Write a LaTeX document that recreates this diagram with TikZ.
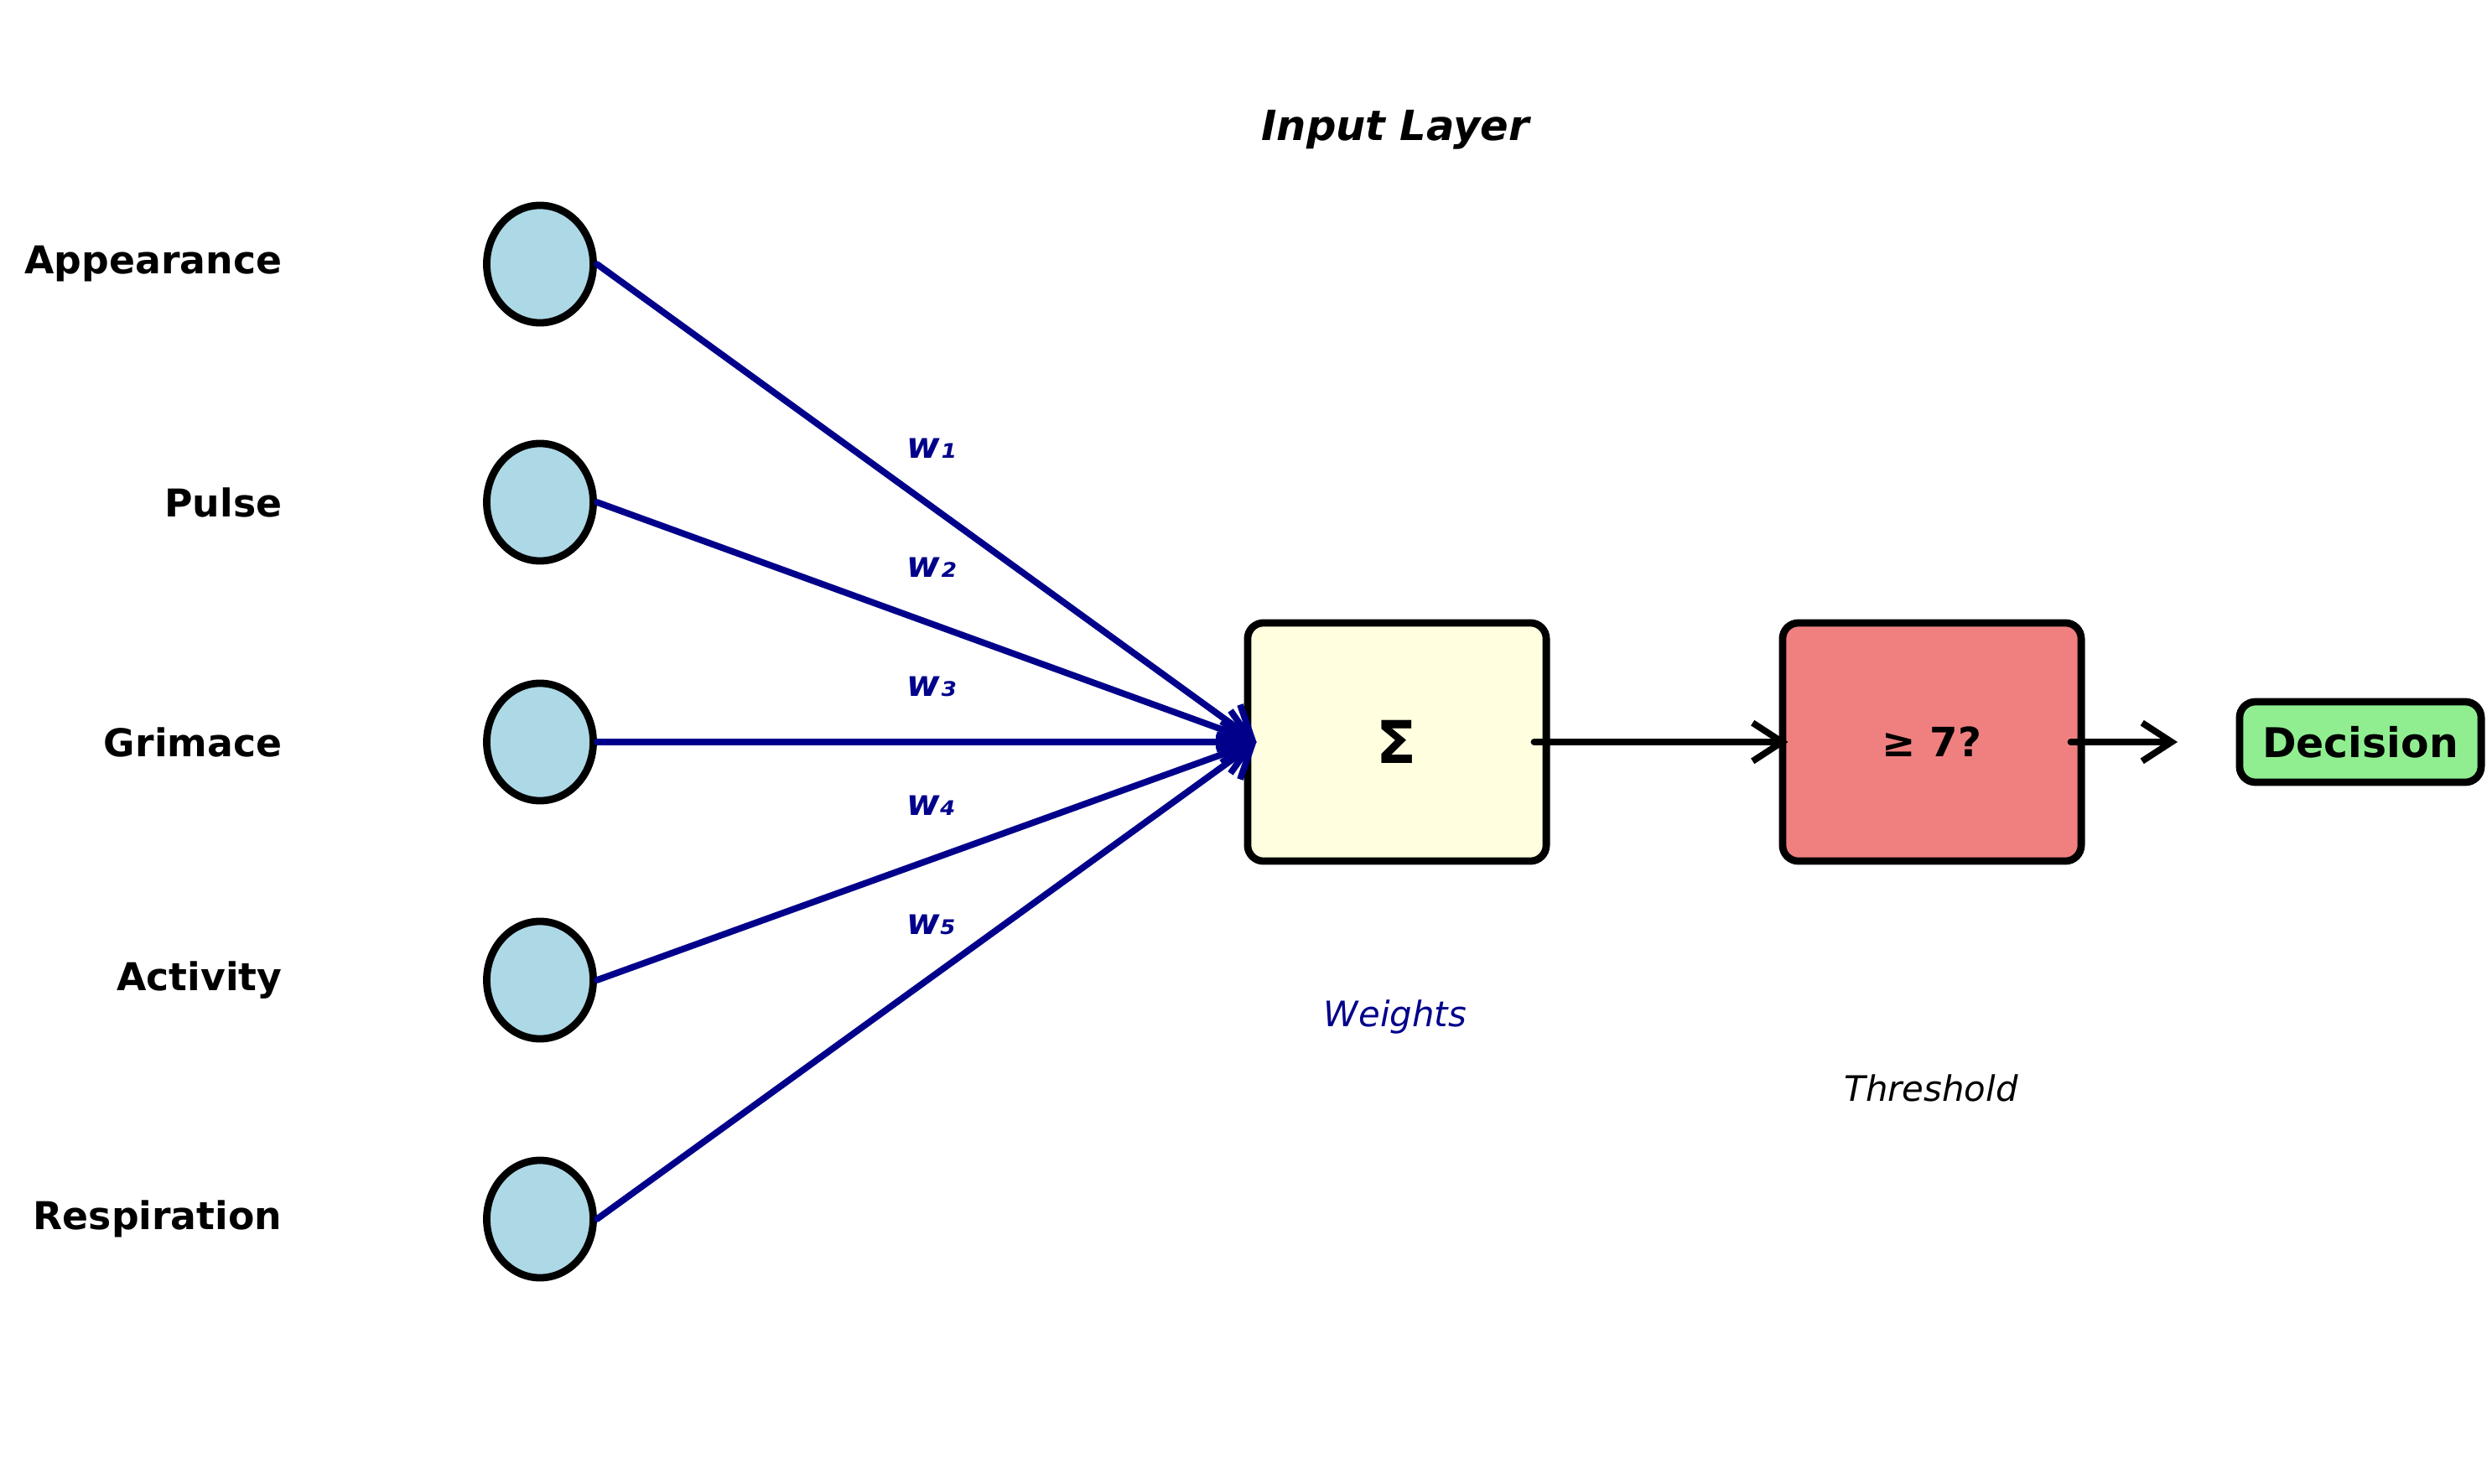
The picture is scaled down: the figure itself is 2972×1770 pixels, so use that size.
\documentclass[tikz,border=0pt]{standalone}
\usepackage{fontspec}
\setmainfont{DejaVu Sans}
\usetikzlibrary{arrows.meta,shapes.geometric}
\definecolor{dblue}{HTML}{00008B}
\definecolor{lblue}{HTML}{ADD8E6}
\definecolor{lyellow}{HTML}{FFFFE0}
\definecolor{lcoral}{HTML}{F08080}
\definecolor{lgreen}{HTML}{90EE90}
\tikzset{
  inp/.style={ellipse, draw=black, line width=2.5pt, fill=lblue, minimum width=1.27cm, minimum height=1.40cm, inner sep=0pt},
  lab/.style={anchor=east, font=\fontsize{13}{15}\selectfont\bfseries, inner sep=0pt},
  wlab/.style={text=dblue, font=\fontsize{12.2}{14}\selectfont\bfseries\itshape, inner sep=0pt},
  boxn/.style={draw=black, line width=2.5pt, rounded corners=5.4pt, minimum width=3.56cm, minimum height=2.84cm, inner sep=0pt},
  warrow/.style={draw=dblue, line width=2.2pt, line cap=round, -{Straight Barb[length=10pt,width=14pt,line width=2.2pt]}},
  karrow/.style={draw=black, line width=2.2pt, line cap=round, -{Straight Barb[length=10pt,width=13pt,line width=2.2pt]}},
}
\begin{document}
\begin{tikzpicture}[x=0.01cm, y=-0.01cm]
\useasboundingbox (0,0) rectangle (2972,1770);
% title
\node[font=\fontsize{14.1}{16}\selectfont\bfseries\itshape] (title) at (1664,155) {Input Layer};
% inputs
\node[inp] (c1) at (644,315) {};
\node[inp] (c2) at (644,599) {};
\node[inp] (c3) at (644,885) {};
\node[inp] (c4) at (644,1169) {};
\node[inp] (c5) at (644,1454) {};
\node[lab] (l1) at (337,315) {Appearance};
\node[lab] (l2) at (337,599) {Pulse};
\node[lab] (l3) at (337,885) {Grimace};
\node[lab] (l4) at (337,1169) {Activity};
\node[lab] (l5) at (337,1454) {Respiration};
% boxes
\node[boxn, fill=lyellow, font=\fontsize{20}{24}\selectfont\bfseries] (sum) at (1666,885) {Σ};
\node[boxn, fill=lcoral, font=\fontsize{13.7}{16}\selectfont\bfseries] (thr) at (2304,885) {≥ 7?};
\node[draw=black, line width=2.5pt, rounded corners=5.4pt, fill=lgreen, minimum width=2.88cm, minimum height=0.96cm, inner sep=0pt, font=\fontsize{13.9}{16}\selectfont\bfseries] (dec) at (2815,885) {Decision};
% connectors
\draw[warrow] (c1.east) -- ([xshift=0.15cm]sum.west);
\draw[warrow] (c2.east) -- ([xshift=0.15cm]sum.west);
\draw[warrow] (c3.east) -- ([xshift=0.15cm]sum.west);
\draw[warrow] (c4.east) -- ([xshift=0.15cm]sum.west);
\draw[warrow] (c5.east) -- ([xshift=0.15cm]sum.west);
\draw[karrow] ([xshift=-0.19cm]sum.east) -- ([xshift=0.11cm]thr.west);
\coordinate (decin) at (2597,885);
\draw[karrow] ([xshift=-0.17cm]thr.east) -- (decin);
% weight labels
\node[wlab] (w1) at (1111,535) {w₁};
\node[wlab] (w2) at (1111,677) {w₂};
\node[wlab] (w3) at (1111,819) {w₃};
\node[wlab] (w4) at (1111,961) {w₄};
\node[wlab] (w5) at (1111,1103) {w₅};
% captions
\node[text=dblue, font=\fontsize{11.9}{14}\selectfont\itshape] (wt) at (1664,1213) {Weights};
\node[font=\fontsize{11.9}{14}\selectfont\itshape] (th) at (2303,1298) {Threshold};
\end{tikzpicture}
\end{document}
